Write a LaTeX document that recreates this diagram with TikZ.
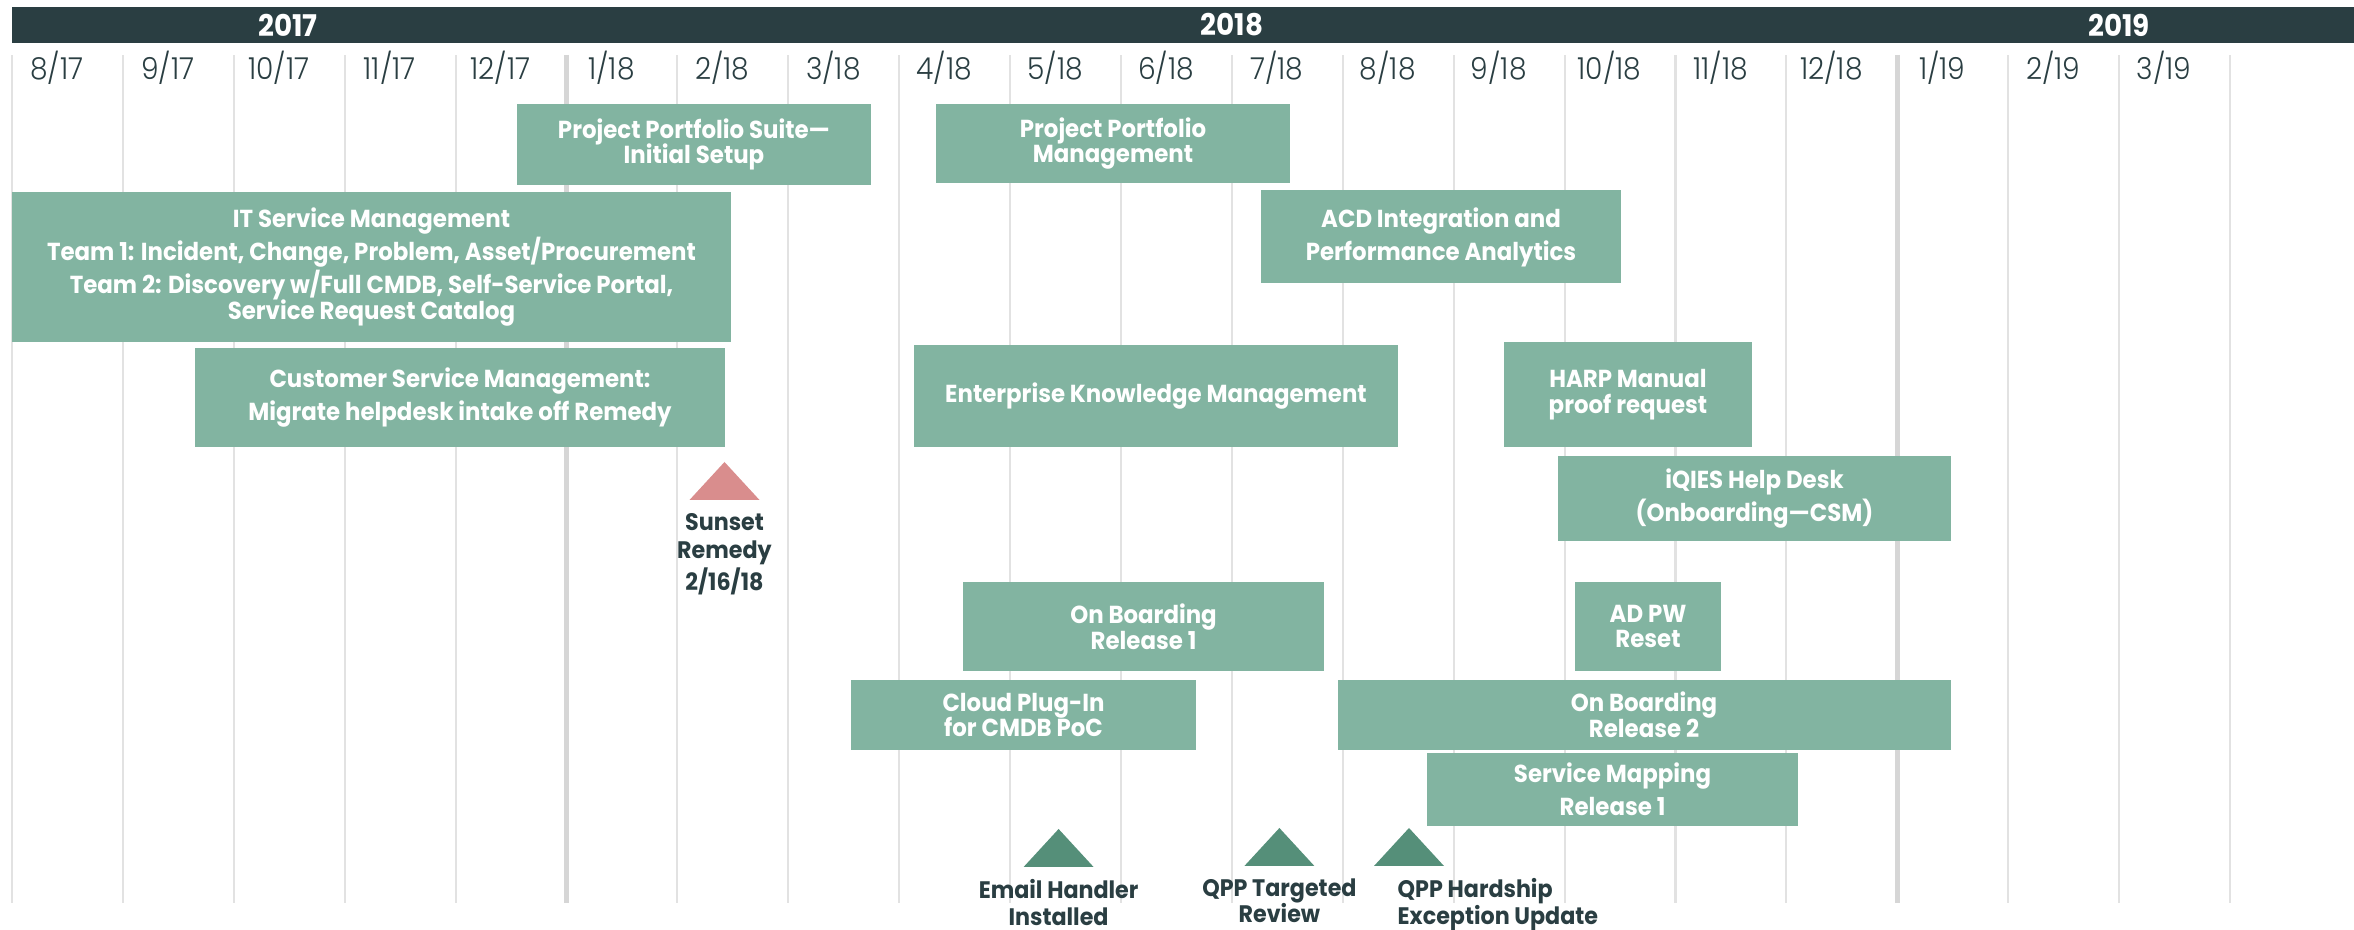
\documentclass[tikz,border=0pt]{standalone}
\usepackage{fontspec}
\setmainfont{Poppins}[FakeStretch=0.93]
\newfontfamily\monthfont{Poppins}[UprightFont=* Light, FakeStretch=0.93]
\usepackage{xcolor}
\usetikzlibrary{positioning}
\newcommand\tightlines{\lineskiplimit=-100pt\relax}
\definecolor{roadbar}{RGB}{42,62,66}
\definecolor{roadgreen}{RGB}{130,180,161}
\definecolor{miledark}{RGB}{85,143,121}
\definecolor{milepink}{RGB}{217,141,141}
\definecolor{gridgray}{RGB}{226,226,226}
\definecolor{yeargray}{RGB}{214,214,214}
\tikzstyle{taskbox} = [rectangle, fill=roadgreen, text=white, align=center, inner sep=0pt, font=\bfseries\fontsize{7}{7.3}\selectfont\tightlines]
\tikzstyle{monthlabel} = [text=roadbar, font=\monthfont\fontsize{8.6}{9}\selectfont]
\tikzstyle{yearlabel} = [text=white, font=\bfseries\fontsize{8.5}{9}\selectfont]
\tikzstyle{milelabel} = [text=roadbar, align=center, inner sep=0pt, font=\bfseries\fontsize{6.8}{7.5}\selectfont]
\tikzstyle{gridline} = [draw=gridgray, line width=0.6pt]
\tikzstyle{yearline} = [draw=yeargray, line width=1.4pt]

\begin{document}
\begin{tikzpicture}
    \useasboundingbox (0,0) rectangle (23.54,-9.30);
    % grid and time axis
    \foreach \i in {0,...,20}
        \draw[gridline] (0.12+1.109*\i,-0.55) -- (0.12+1.109*\i,-9.03);
    \foreach \i in {5,17}
        \draw[yearline] (0.12+1.109*\i,-0.55) -- (0.12+1.109*\i,-9.03);
    \fill[roadbar] (0.12,-0.07) rectangle (23.54,-0.43);
    \node[yearlabel] (y2017) at (2.88,-0.25) {2017};
    \node[yearlabel] (y2018) at (12.32,-0.25) {2018};
    \node[yearlabel] (y2019) at (21.19,-0.25) {2019};
    \foreach \m [count=\i from 0] in {8/17,9/17,10/17,11/17,12/17,1/18,2/18,3/18,4/18,5/18,6/18,7/18,8/18,9/18,10/18,11/18,12/18,1/19,2/19,3/19}
        \node[monthlabel] (m\i) at (0.57+1.109*\i,-0.675) {\m};

    % workstreams
    \node[taskbox, minimum width=3.54cm, minimum height=0.81cm] (pps) at (6.94,-1.445) {Project Portfolio Suite—\\Initial Setup};
    \node[taskbox, minimum width=3.54cm, minimum height=0.79cm] (ppm) at (11.13,-1.435) {Project Portfolio\\Management};
    \node[taskbox, minimum width=7.19cm, minimum height=1.50cm] (itsm) at (3.715,-2.67) {IT Service Management\\[2.1pt]Team 1: Incident, Change, Problem, Asset/Procurement\\[2.1pt]Team 2: Discovery w/Full CMDB, Self-Service Portal,\\Service Request Catalog};
    \node[taskbox, minimum width=5.30cm, minimum height=0.99cm] (csm) at (4.60,-3.975) {Customer Service Management:\\[2.1pt]Migrate helpdesk intake off Remedy};
    \node[taskbox, minimum width=3.60cm, minimum height=0.93cm] (acd) at (14.41,-2.37) {ACD Integration and\\[2.1pt]Performance Analytics};
    \node[taskbox, minimum width=4.84cm, minimum height=1.02cm] (ekm) at (11.56,-3.96) {Enterprise Knowledge Management};
    \node[taskbox, minimum width=2.48cm, minimum height=1.05cm] (harp) at (16.28,-3.945) {HARP Manual\\proof request};
    \node[taskbox, minimum width=3.93cm, minimum height=0.85cm] (iqies) at (17.545,-4.985) {iQIES Help Desk\\[2.1pt](Onboarding—CSM)};
    \node[taskbox, minimum width=1.46cm, minimum height=0.89cm] (adpw) at (16.48,-6.265) {AD PW\\Reset};
    \node[taskbox, minimum width=3.61cm, minimum height=0.89cm] (obr1) at (11.435,-6.265) {On Boarding\\Release 1};
    \node[taskbox, minimum width=3.45cm, minimum height=0.70cm] (cloud) at (10.235,-7.15) {Cloud Plug-In\\for CMDB PoC};
    \node[taskbox, minimum width=6.13cm, minimum height=0.70cm] (obr2) at (16.44,-7.15) {On Boarding\\Release 2};
    \node[taskbox, minimum width=3.71cm, minimum height=0.73cm] (smr1) at (16.125,-7.895) {Service Mapping\\[2.1pt]Release 1};

    % milestones
    \coordinate (sunset) at (7.245,-5.00);
    \coordinate (email) at (10.586,-8.67);
    \coordinate (targeted) at (12.794,-8.66);
    \coordinate (hardship) at (14.09,-8.66);
    \fill[milepink] (sunset) ++(-0.35,0) -- ++(0.35,0.38) -- ++(0.35,-0.38) -- cycle;
    \fill[miledark] (email) ++(-0.35,0) -- ++(0.35,0.38) -- ++(0.35,-0.38) -- cycle;
    \fill[miledark] (targeted) ++(-0.35,0) -- ++(0.35,0.38) -- ++(0.35,-0.38) -- cycle;
    \fill[miledark] (hardship) ++(-0.35,0) -- ++(0.35,0.38) -- ++(0.35,-0.38) -- cycle;
    \node[milelabel, below=0.13cm of sunset, font=\bfseries\fontsize{6.8}{7.8}\selectfont] (sunsetlbl) {Sunset\\Remedy\\2/16/18};
    \node[milelabel, below=0.12cm of email] (emaillbl) {Email Handler\\Installed};
    \node[milelabel, below=0.12cm of targeted] (targetedlbl) {QPP Targeted\\Review};
    \node[milelabel, align=left, below right=0.12cm and -0.12cm of hardship] (hardshiplbl) {QPP Hardship\\Exception Update};
\end{tikzpicture}
\end{document}
